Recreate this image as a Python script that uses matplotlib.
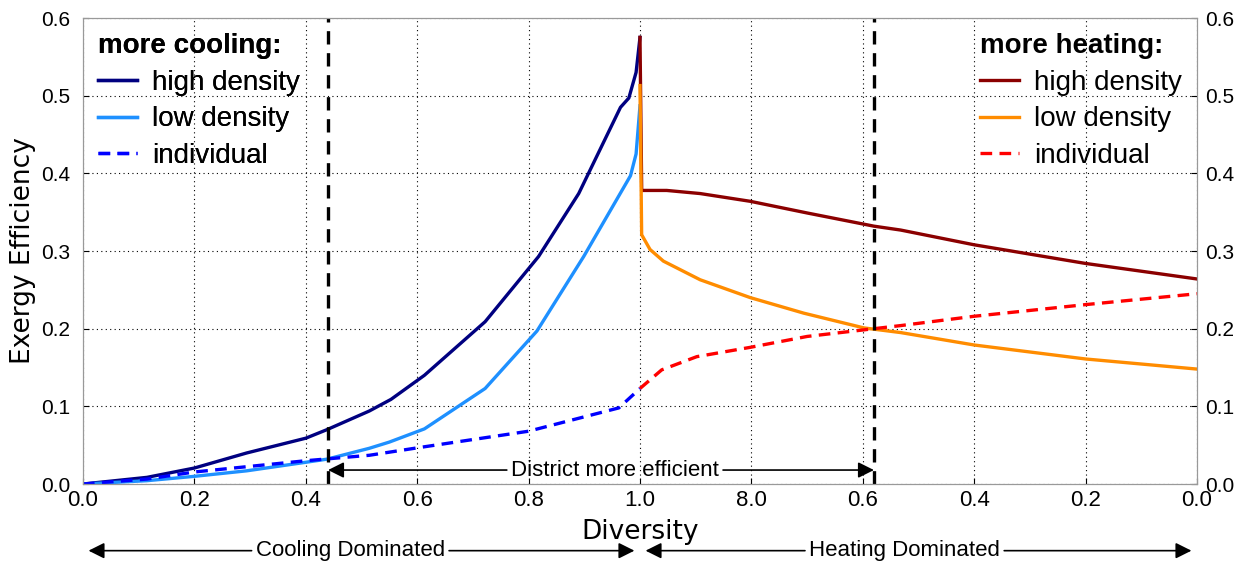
import matplotlib
matplotlib.use("Agg")
import matplotlib.pyplot as plt
import numpy as np

NARROW = ["Liberation Sans Narrow", "Liberation Sans", "DejaVu Sans"]
ARIAL = ["Liberation Sans", "DejaVu Sans"]

# cooling side: diversity 0 -> 1
cool_hi_x = [0.0, 0.115, 0.2, 0.294, 0.4, 0.438, 0.514, 0.553, 0.613, 0.722,
             0.818, 0.89, 0.965, 0.98, 0.993, 1.0]
cool_hi_y = [0.0, 0.0086, 0.0206, 0.040, 0.059, 0.070, 0.094, 0.109, 0.140, 0.209,
             0.293, 0.374, 0.485, 0.497, 0.530, 0.575]
cool_lo_x = [0.0, 0.115, 0.2, 0.294, 0.4, 0.438, 0.514, 0.55, 0.613, 0.722,
             0.815, 0.899, 0.983, 0.993, 1.0]
cool_lo_y = [0.0, 0.0043, 0.0099, 0.017, 0.028, 0.032, 0.046, 0.054, 0.071, 0.123,
             0.197, 0.293, 0.397, 0.425, 0.487]
cool_ind_x = [0.0, 0.115, 0.2, 0.4, 0.514, 0.604, 0.8, 0.962, 1.0]
cool_ind_y = [0.0, 0.0064, 0.0155, 0.030, 0.037, 0.047, 0.068, 0.098, 0.123]

# heating side: diversity 1 -> 0 (drawn right of 1.0)
heat_hi_d = [1.0, 0.997, 0.997, 0.952, 0.892, 0.802, 0.70, 0.58, 0.532, 0.4, 0.2, 0.0]
heat_hi_y = [0.575, 0.383, 0.378, 0.378, 0.374, 0.364, 0.349, 0.332, 0.327, 0.308, 0.284, 0.264]
heat_lo_d = [1.0, 0.997, 0.982, 0.958, 0.892, 0.802, 0.706, 0.598, 0.532, 0.4, 0.2, 0.0]
heat_lo_y = [0.513, 0.321, 0.302, 0.287, 0.263, 0.240, 0.220, 0.201, 0.195, 0.179, 0.161, 0.148]
heat_ind_d = [1.0, 0.961, 0.898, 0.802, 0.70, 0.58, 0.532, 0.4, 0.2, 0.0]
heat_ind_y = [0.123, 0.147, 0.164, 0.176, 0.190, 0.200, 0.204, 0.216, 0.231, 0.245]

tick_pos = [0.0, 0.2, 0.4, 0.6, 0.8, 1.0, 1.2, 1.4, 1.6, 1.8, 2.0]
tick_labels = ["0.0", "0.2", "0.4", "0.6", "0.8", "1.0", "8.0", "0.6", "0.4", "0.2", "0.0"]
y_ticks = [0.0, 0.1, 0.2, 0.3, 0.4, 0.5, 0.6]
cool_limit = 0.44
heat_limit = 0.58

fig = plt.figure(figsize=(12.55, 5.72), dpi=100)
ax = fig.add_axes([0.0661, 0.1538, 0.8877, 0.8147])

heat_x = lambda d: 2.0 - np.array(d)
dash = (0, (3.5, 2.2))

l1, = ax.plot(cool_hi_x, cool_hi_y, color="#000080", lw=2.4, label="high density")
l2, = ax.plot(cool_lo_x, cool_lo_y, color="#1E90FF", lw=2.4, label="low density")
l3, = ax.plot(cool_ind_x, cool_ind_y, color="#0000FF", lw=2.4, ls=dash, label="individual")
h1, = ax.plot(heat_x(heat_hi_d), heat_hi_y, color="#8B0000", lw=2.4, label="high density")
h2, = ax.plot(heat_x(heat_lo_d), heat_lo_y, color="#FF8C00", lw=2.4, label="low density")
h3, = ax.plot(heat_x(heat_ind_d), heat_ind_y, color="#FF0000", lw=2.4, ls=dash, label="individual")

ax.axvline(cool_limit, color="black", lw=2.4, ls=(0, (4, 2.6)))
ax.axvline(2.0 - heat_limit, color="black", lw=2.4, ls=(0, (4, 2.6)))

ax.set_xlim(0, 2)
ax.set_ylim(0, 0.6)
ax.set_xticks(tick_pos)
ax.set_xticklabels(tick_labels, family=NARROW, fontsize=16)
ax.set_yticks(y_ticks)
ax.set_yticklabels([f"{v:.1f}" for v in y_ticks], family=ARIAL, fontsize=15)
ax.tick_params(axis="x", direction="in", length=4, pad=4)
ax.tick_params(axis="y", direction="in", length=4, pad=9)
ax.grid(True, color="black", ls=(0, (1, 3)), lw=0.8)
for s in ax.spines.values():
    s.set_color("#999999")

ax2 = ax.twinx()
ax2.set_ylim(0, 0.6)
ax2.set_yticks(y_ticks)
ax2.set_yticklabels([f"{v:.1f}" for v in y_ticks], family=ARIAL, fontsize=15)
ax2.tick_params(direction="in", length=4, pad=6)
for s in ax2.spines.values():
    s.set_color("#999999")

ax.set_ylabel("Exergy Efficiency", fontsize=19, labelpad=4)
ax.set_xlabel("Diversity", fontsize=19, labelpad=6)

leg_kw = dict(frameon=False, prop={"family": ARIAL, "size": 20},
              handlelength=1.4, handletextpad=0.55, labelspacing=0.38,
              borderaxespad=0.25, alignment="left", borderpad=0.3)
leg1 = ax.legend(handles=[l1, l2, l3], loc="upper left", title="more cooling:", **leg_kw)
leg1.get_title().set_fontweight("bold")
leg1.get_title().set_fontsize(20)
leg1.get_title().set_family(ARIAL)
ax.add_artist(leg1)
leg2 = ax2.legend(handles=[h1, h2, h3], loc="upper right", title="more heating:", **leg_kw)
leg2.get_title().set_fontweight("bold")
leg2.get_title().set_fontsize(20)
leg2.get_title().set_family(ARIAL)

arrow = dict(arrowstyle="-|>", color="black", lw=1.2, mutation_scale=24,
             shrinkA=1, shrinkB=0)

# district more efficient band
y_arr = 0.018
mid = 0.955
for end, col in [(cool_limit, "black"), (2.0 - heat_limit, "none")]:
    ax2.annotate("District more efficient", xy=(end, y_arr), xytext=(mid, y_arr),
                 xycoords=ax.transData, textcoords=ax.transData, color=col,
                 ha="center", va="center", fontsize=16, family=NARROW,
                 arrowprops=arrow)

# cooling / heating dominated arrows below the axis
yb = -0.143
for label, cx, x0, x1 in [("Cooling Dominated", 0.48, 0.01, 0.99),
                          ("Heating Dominated", 1.475, 1.01, 1.99)]:
    for end, col in [(x0, "black"), (x1, "none")]:
        ax2.annotate(label, xy=(end, yb), xytext=(cx, yb),
                     xycoords=("data", "axes fraction"),
                     textcoords=("data", "axes fraction"), color=col,
                     ha="center", va="center", fontsize=16, family=NARROW,
                     arrowprops=arrow, annotation_clip=False)

fig.savefig("out.png", dpi=100)
